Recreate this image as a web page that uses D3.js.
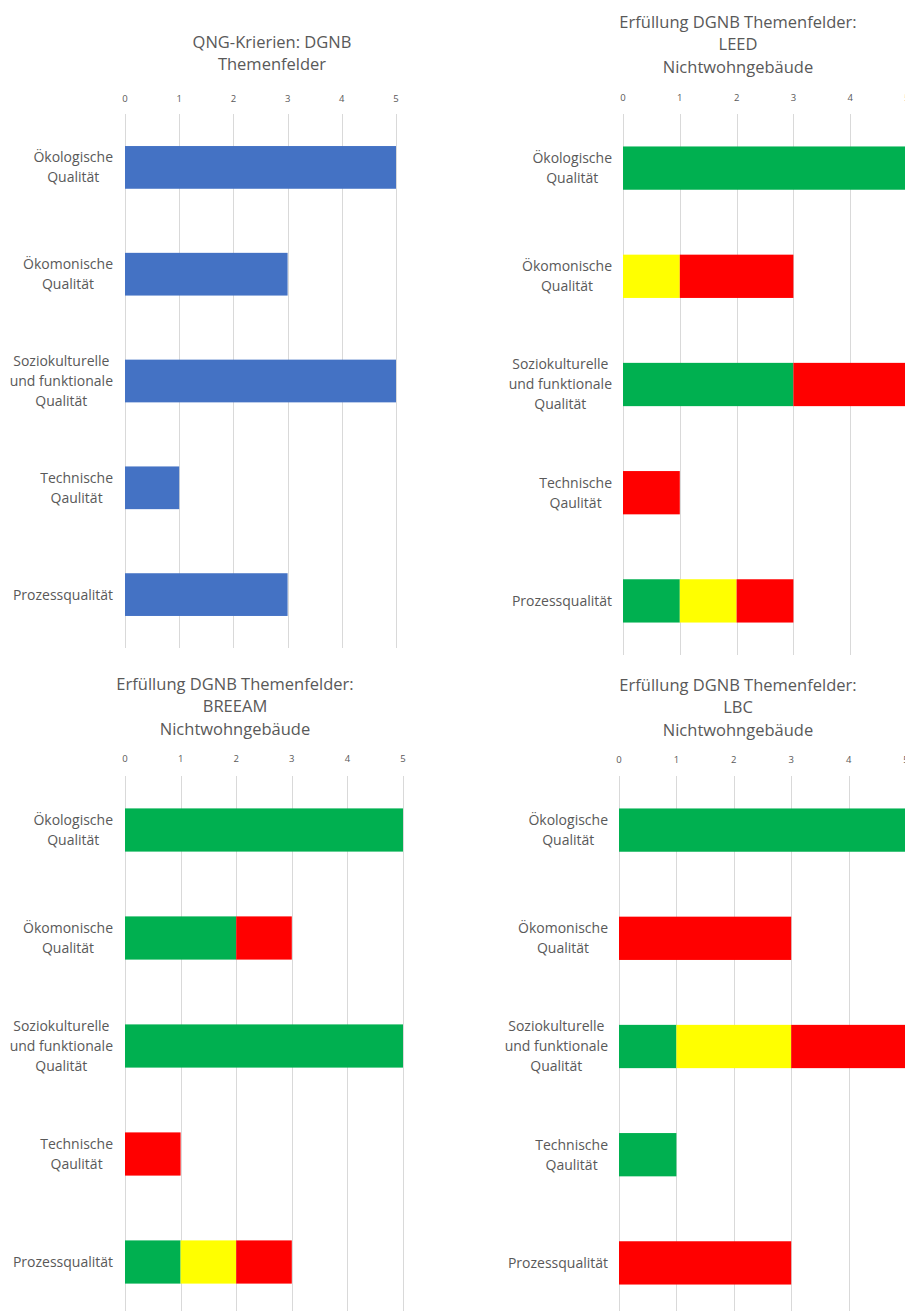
<!DOCTYPE html>
<html>
<head>
<meta charset="utf-8">
<script src="https://cdn.jsdelivr.net/npm/d3@7"></script>
<style>
  body { margin: 0; background: #fff; }
  svg { display: block; font-family: "Open Sans", sans-serif; }
  .title { fill: #595959; font-size: 16.5px; }
  .cat { fill: #595959; font-size: 14px; }
  .tick-label { fill: #595959; font-size: 9.5px; }
</style>
</head>
<body>
<div id="chart"></div>
<script>
// category labels (line breaks as in the original)
const categories = [
  ["Ökologische", "Qualität"],
  ["Ökomonische", "Qualität"],
  ["Soziokulturelle", "und funktionale", "Qualität"],
  ["Technische", "Qaulität"],
  ["Prozessqualität"]
];
const tickValues = [0, 1, 2, 3, 4, 5];

// QNG criteria
const qngValues = [5, 3, 5, 1, 3];

// fulfilment per rating system: green / yellow / red
const leedGreen  = [5, 0, 3, 0, 1];
const leedYellow = [0, 1, 0, 0, 1];
const leedRed    = [0, 2, 2, 1, 1];

const breeamGreen  = [5, 2, 5, 0, 1];
const breeamYellow = [0, 0, 0, 0, 1];
const breeamRed    = [0, 1, 0, 1, 1];

const lbcGreen  = [5, 0, 1, 1, 0];
const lbcYellow = [0, 0, 2, 0, 0];
const lbcRed    = [0, 3, 2, 0, 3];

const colors = { green: "#00b050", yellow: "#ffff00", red: "#ff0000", blue: "#4472c4" };

function toRows(g, y, r) {
  return categories.map((c, i) => ({ key: i, green: g[i], yellow: y[i], red: r[i] }));
}

const panels = [
  { title: ["QNG-Krierien: DGNB", "Themenfelder"], titleX: 272, titleY: 42,
    x: [125, 396], y: [114, 648], tickY: 99, labelRight: 113,
    rows: categories.map((c, i) => ({ key: i, blue: qngValues[i] })), keys: ["blue"] },
  { title: ["Erfüllung DGNB Themenfelder:", "LEED", "Nichtwohngebäude"], titleX: 738, titleY: 22,
    x: [623, 907], y: [114, 655], tickY: 98, labelRight: 612,
    rows: toRows(leedGreen, leedYellow, leedRed), keys: ["green", "yellow", "red"] },
  { title: ["Erfüllung DGNB Themenfelder:", "BREEAM", "Nichtwohngebäude"], titleX: 235, titleY: 684,
    x: [125, 403], y: [776, 1316], tickY: 759, labelRight: 113,
    rows: toRows(breeamGreen, breeamYellow, breeamRed), keys: ["green", "yellow", "red"] },
  { title: ["Erfüllung DGNB Themenfelder:", "LBC", "Nichtwohngebäude"], titleX: 738, titleY: 685,
    x: [619, 906], y: [776, 1317], tickY: 760, labelRight: 608,
    rows: toRows(lbcGreen, lbcYellow, lbcRed), keys: ["green", "yellow", "red"] }
];

const svg = d3.select("#chart").append("svg")
  .attr("width", 905)
  .attr("height", 1311);

panels.forEach(function(p) {
  const g = svg.append("g");

  const x = d3.scaleLinear().domain([0, 5]).range(p.x);
  const y = d3.scaleBand()
    .domain(categories.map((c, i) => i))
    .range(p.y)
    .paddingInner(0.6)
    .paddingOuter(0.3);

  // title
  g.append("text")
    .attr("class", "title")
    .attr("text-anchor", "middle")
    .attr("x", p.titleX)
    .attr("y", p.titleY)
    .selectAll("tspan")
    .data(p.title)
    .join("tspan")
    .attr("x", p.titleX)
    .attr("dy", (d, i) => i === 0 ? "0.35em" : 22.7)
    .text(d => d);

  // gridlines + tick labels
  g.selectAll("line.grid")
    .data(tickValues)
    .join("line")
    .attr("class", "grid")
    .attr("x1", d => Math.round(x(d)) + 0.5)
    .attr("x2", d => Math.round(x(d)) + 0.5)
    .attr("y1", p.y[0])
    .attr("y2", p.y[1])
    .attr("stroke", "#d9d9d9")
    .attr("stroke-width", 1);

  g.selectAll("text.tick-label")
    .data(tickValues)
    .join("text")
    .attr("class", "tick-label")
    .attr("text-anchor", "middle")
    .attr("x", d => x(d))
    .attr("y", p.tickY)
    .attr("dy", "0.35em")
    .text(d => d);

  // bars
  const series = d3.stack().keys(p.keys)(p.rows);
  g.selectAll("g.series")
    .data(series)
    .join("g")
    .attr("class", "series")
    .attr("fill", d => colors[d.key])
    .selectAll("rect")
    .data(d => d.filter(s => s[1] > s[0]))
    .join("rect")
    .attr("x", d => x(d[0]))
    .attr("width", d => x(d[1]) - x(d[0]))
    .attr("y", d => y(d.data.key))
    .attr("height", y.bandwidth());

  // category labels, lines centred on each other, widest line ends at labelRight
  categories.forEach(function(lines, i) {
    const t = g.append("text")
      .attr("class", "cat")
      .attr("text-anchor", "middle");
    const lh = 20;
    const cy = y(i) + y.bandwidth() / 2;
    lines.forEach(function(l, j) {
      t.append("tspan")
        .attr("y", cy + (j - (lines.length - 1) / 2) * lh)
        .attr("dy", "0.35em")
        .text(l);
    });
    let w = 0;
    t.selectAll("tspan").each(function() { w = Math.max(w, this.getComputedTextLength()); });
    t.selectAll("tspan").attr("x", p.labelRight - w / 2);
  });
});
</script>
</body>
</html>
